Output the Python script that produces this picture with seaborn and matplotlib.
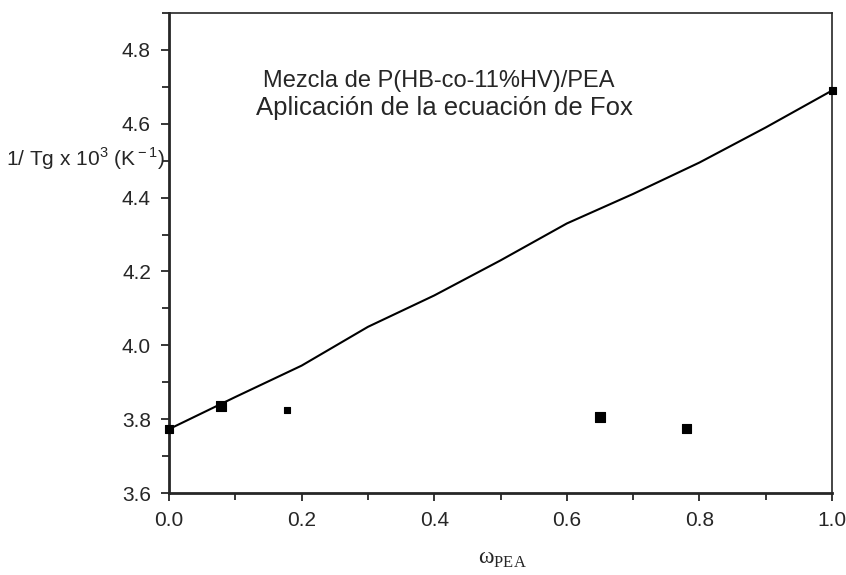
import numpy as np
import pandas as pd
import matplotlib
matplotlib.use("Agg")
import matplotlib.pyplot as plt
import seaborn as sns
from matplotlib.ticker import MultipleLocator, FormatStrFormatter

# ── data ─────────────────────────────────────────────────────────
w_fox = [0.0, 0.1, 0.2, 0.3, 0.4, 0.5, 0.6, 0.7, 0.8, 0.9, 1.0]
inv_tg_fox = [3.773, 3.86, 3.945, 4.05, 4.135, 4.23, 4.33, 4.41, 4.495, 4.59, 4.69]

w_exp = [0.0, 0.078, 0.178, 0.65, 0.78, 1.0]
inv_tg_exp = [3.773, 3.835, 3.825, 3.805, 3.775, 4.69]
marker_sizes = [30, 55, 22, 50, 40, 25]

fox = pd.DataFrame({"w": w_fox, "tg": inv_tg_fox})
exp = pd.DataFrame({"w": w_exp, "tg": inv_tg_exp, "s": marker_sizes})

sns.set_style("ticks")
plt.rcParams["font.family"] = ["Liberation Sans", "DejaVu Sans"]
plt.rcParams["mathtext.fontset"] = "custom"
plt.rcParams["mathtext.rm"] = "Liberation Sans"
plt.rcParams["mathtext.cal"] = "Liberation Serif"

fig = plt.figure(figsize=(8.46, 5.75), dpi=100)
ax = fig.add_axes([0.1998, 0.1426, 0.7837, 0.8348])

sns.lineplot(data=fox, x="w", y="tg", ax=ax, color="black", lw=1.5)
ax.scatter(exp["w"], exp["tg"], s=exp["s"], marker="s", color="black",
           edgecolor="black", linewidth=0.8, zorder=3, clip_on=False)

ax.set_xlim(0, 1.0)
ax.set_ylim(3.6, 4.9)
ax.xaxis.set_major_locator(MultipleLocator(0.2))
ax.xaxis.set_minor_locator(MultipleLocator(0.1))
ax.yaxis.set_minor_locator(MultipleLocator(0.1))
ax.set_yticks(np.arange(3.6, 4.81, 0.2))
ax.xaxis.set_major_formatter(FormatStrFormatter("%.1f"))
ax.yaxis.set_major_formatter(FormatStrFormatter("%.1f"))
ax.tick_params(which="major", direction="out", length=6, width=1.3,
               labelsize=15, pad=7, top=False, right=False)
ax.tick_params(which="minor", direction="out", length=5, width=1.3,
               top=False, right=False)

for side in ["left", "bottom"]:
    ax.spines[side].set_linewidth(2.0)
for side in ["top", "right"]:
    ax.spines[side].set_visible(True)
    ax.spines[side].set_linewidth(1.2)

ax.set_xlabel("")
ax.set_ylabel("")
ax.text(-0.005, 4.505, r"1/ Tg x 10$^3$ (K$^{\rm -1}$)", transform=ax.get_yaxis_transform(),
        ha="right", va="center", fontsize=15)
fig.text(0.594, 0.028, r"$\mathcal{ω}_{\mathcal{PEA}}$", ha="center", va="center", fontsize=17)

ax.text(0.4065, 0.846, "Mezcla de P(HB-co-11%HV)/PEA", transform=ax.transAxes,
        ha="center", va="baseline", fontsize=17)
ax.text(0.415, 0.7875, "Aplicación de la ecuación de Fox", transform=ax.transAxes,
        ha="center", va="baseline", fontsize=18.5)

fig.savefig("out.png", dpi=100)
